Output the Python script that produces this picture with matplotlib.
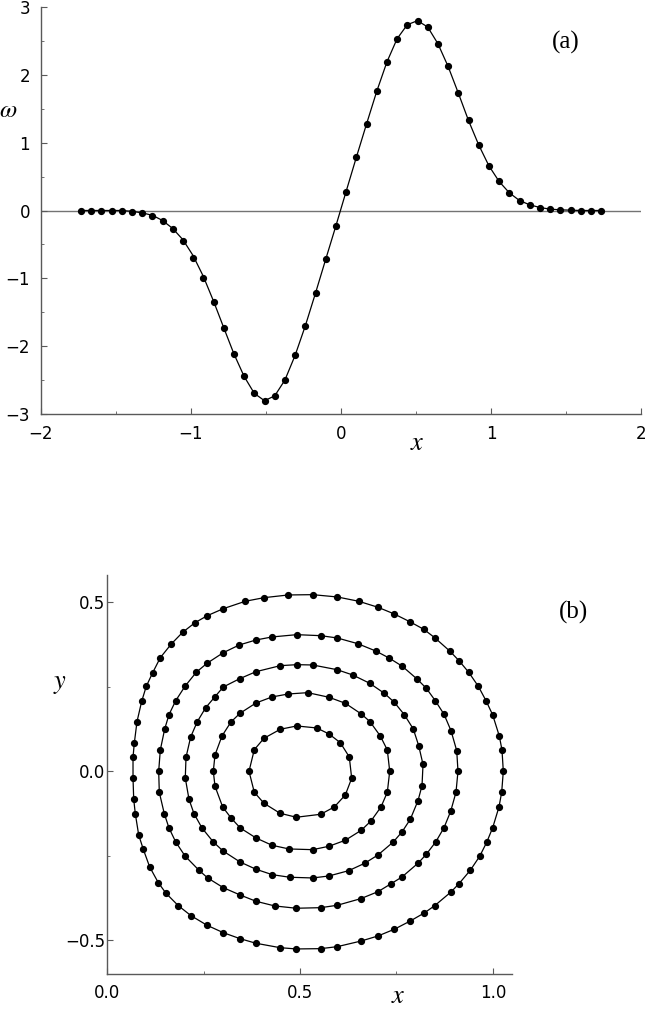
import numpy as np
import matplotlib.pyplot as plt

plt.rcParams['mathtext.fontset'] = 'stix'

# (a) vorticity profile, 52 equally spaced samples
x_a = np.linspace(-1.734, 1.734, 52)
omega = [0, 0, 0, 0, 0, -0.015, -0.04, -0.078, -0.152, -0.28,
         -0.457, -0.698, -0.997, -1.351, -1.726, -2.113, -2.445, -2.696, -2.804, -2.733,
         -2.500, -2.136, -1.701, -1.218, -0.720, -0.226, 0.280, 0.782, 1.274, 1.755,
         2.189, 2.532, 2.739, 2.798, 2.705, 2.459, 2.124, 1.732, 1.327, 0.967,
         0.659, 0.428, 0.261, 0.147, 0.084, 0.044, 0.02, 0.01, 0.005, 0,
         0, 0]
omega_line = [0, 0, 0, 0, 0, -0.012, -0.035, -0.07, -0.147, -0.265,
              -0.43, -0.665, -0.97, -1.335, -1.726, -2.113, -2.445, -2.696, -2.804, -2.733,
              -2.500, -2.136, -1.701, -1.218, -0.720, -0.226, 0.280, 0.782, 1.274, 1.755,
              2.189, 2.532, 2.739, 2.798, 2.705, 2.459, 2.124, 1.732, 1.327, 0.967,
              0.659, 0.428, 0.261, 0.147, 0.084, 0.044, 0.02, 0.01, 0.005, 0,
              0, 0]

# (b) marker positions on five contours
ring1_x = [0.4915, 0.4490, 0.4067, 0.3816, 0.3679, 0.3816, 0.4067, 0.4482, 0.4904,
           0.5536, 0.5889, 0.6174, 0.6339, 0.6277, 0.6044, 0.5751, 0.5433]
ring1_y = [0.1339, 0.1241, 0.0975, 0.0638, 0.0, -0.0621, -0.0946, -0.1241, -0.1359,
           -0.1271, -0.1055, -0.0700, -0.0207, 0.0423, 0.0845, 0.1102, 0.1280]

ring2_x = [0.5200, 0.4697, 0.4275, 0.3860, 0.3446, 0.3212, 0.2979, 0.2798, 0.2754,
           0.2798, 0.2997, 0.3220, 0.3453, 0.3860, 0.4275, 0.4715,
           0.5329, 0.5751, 0.6174, 0.6588, 0.6839, 0.7098, 0.7262, 0.7324,
           0.7262, 0.7080, 0.6813, 0.6588, 0.6174, 0.5751]
ring2_y = [0.2323, 0.2284, 0.2196, 0.2018, 0.1714, 0.1457, 0.1043, 0.0482, 0.0,
           -0.0443, -0.1055, -0.1389, -0.1676, -0.1971, -0.2187, -0.2296,
           -0.2317, -0.2216, -0.2039, -0.1743, -0.1469, -0.1055, -0.0621, 0.0,
           0.0629, 0.1043, 0.1466, 0.1693, 0.2009, 0.2187]

ring3_x = [0.4915, 0.4490, 0.3860, 0.3438, 0.3013, 0.2798, 0.2557, 0.2339, 0.2168, 0.2047,
           0.2028, 0.2124, 0.2254, 0.2461, 0.2754, 0.3005, 0.3446, 0.3860, 0.4282, 0.4733,
           0.5329, 0.5751, 0.6262, 0.6676, 0.7021, 0.7417, 0.7642, 0.7858, 0.8057, 0.8161,
           0.8187, 0.8075, 0.7935, 0.7702, 0.7443, 0.7184, 0.6806, 0.6365, 0.5959, 0.5329]
ring3_y = [0.3150, 0.3121, 0.2943, 0.2736, 0.2491, 0.2204, 0.1879, 0.1466, 0.1014, 0.0414,
           -0.0198, -0.0827, -0.1253, -0.1676, -0.2089, -0.2355, -0.2680, -0.2896, -0.3056, -0.3132,
           -0.3153, -0.3094, -0.2937, -0.2719, -0.2473, -0.2089, -0.1794, -0.1418, -0.0869, -0.0426,
           0.0201, 0.0757, 0.1250, 0.1673, 0.2039, 0.2305, 0.2600, 0.2846, 0.3002, 0.3141]

ring4_x = [0.4915, 0.4275, 0.3860, 0.3427, 0.3013, 0.2591, 0.2313, 0.2021, 0.1780, 0.1606,
           0.1495, 0.1381, 0.1339, 0.1355, 0.1484, 0.1606, 0.1780, 0.2021, 0.2383, 0.2609,
           0.3013, 0.3446, 0.3860, 0.4345, 0.4904, 0.5536, 0.5966, 0.6573, 0.7021, 0.7350,
           0.7642, 0.8065, 0.8272, 0.8516, 0.8731, 0.8904, 0.9041, 0.9093, 0.9060, 0.8912,
           0.8731, 0.8505, 0.8272, 0.8039, 0.7650, 0.7306, 0.6961, 0.6495, 0.5966, 0.5536]
ring4_y = [0.4037, 0.3969, 0.3880, 0.3732, 0.3505, 0.3191, 0.2926, 0.2512, 0.2086, 0.1673,
           0.1250, 0.0629, 0.0, -0.0621, -0.1253, -0.1676, -0.2089, -0.2503, -0.2926, -0.3153,
           -0.3440, -0.3655, -0.3842, -0.3980, -0.4048, -0.4031, -0.3960, -0.3765, -0.3558, -0.3330,
           -0.3124, -0.2710, -0.2453, -0.2089, -0.1667, -0.1182, -0.0621, 0.0, 0.0609, 0.1200,
           0.1684, 0.2086, 0.2453, 0.2719, 0.3103, 0.3348, 0.3555, 0.3771, 0.3939, 0.4007]

ring5_x = [0.4697, 0.4067, 0.3583, 0.3013, 0.2598, 0.2280, 0.1961, 0.1666, 0.1381, 0.1184,
           0.1018, 0.0899, 0.0777, 0.0707, 0.0674, 0.0674, 0.0692, 0.0733, 0.0821, 0.0940,
           0.1106, 0.1329, 0.1528, 0.1847, 0.2176, 0.2591, 0.3013, 0.3446, 0.3860, 0.4482,
           0.4904, 0.5536, 0.5966, 0.6588, 0.7021, 0.7443, 0.7858, 0.8220, 0.8490, 0.8912,
           0.9119, 0.9412, 0.9655, 0.9837, 0.9992, 1.0155, 1.0225, 1.0267, 1.0233, 1.0163,
           0.9992, 0.9819, 0.9619, 0.9370, 0.9119, 0.8886, 0.8490, 0.8205, 0.7858, 0.7443,
           0.7021, 0.6521, 0.5966, 0.5329]
ring5_y = [0.5210, 0.5130, 0.5024, 0.4805, 0.4598, 0.4391, 0.4108, 0.3762, 0.3357, 0.2914,
           0.2512, 0.2069, 0.1466, 0.0827, 0.0414, -0.0207, -0.0827, -0.1253, -0.1882, -0.2305,
           -0.2828, -0.3292, -0.3605, -0.3972, -0.4267, -0.4551, -0.4770, -0.4947, -0.5083, -0.5213,
           -0.5251, -0.5242, -0.5183, -0.5015, -0.4867, -0.4669, -0.4424, -0.4187, -0.3972, -0.3567,
           -0.3322, -0.2926, -0.2512, -0.2098, -0.1667, -0.1055, -0.0621, 0.0, 0.0629, 0.1043,
           0.1664, 0.2086, 0.2512, 0.2926, 0.3268, 0.3546, 0.3948, 0.4196, 0.4412, 0.4648,
           0.4846, 0.5024, 0.5151, 0.5219]

rings = [(ring1_x, ring1_y), (ring2_x, ring2_y), (ring3_x, ring3_y),
         (ring4_x, ring4_y), (ring5_x, ring5_y)]

spine_col = '0.35'

def style_axes(ax, pad_x, pad_y):
    for s in ['top', 'right']:
        ax.spines[s].set_visible(False)
    for s in ['left', 'bottom']:
        ax.spines[s].set_color(spine_col)
        ax.spines[s].set_linewidth(1.0)
    ax.tick_params(which='both', direction='in', color=spine_col, labelsize=12)
    ax.tick_params(which='major', length=4)
    ax.tick_params(which='minor', length=2.4)
    ax.tick_params(axis='x', pad=pad_x)
    ax.tick_params(axis='y', pad=pad_y)

def one_decimal(v, pos):
    return ('%.1f' % v).replace('-', '\u2212')


fig = plt.figure(figsize=(6.47, 10.09), dpi=100)

# ---- panel (a)
ax1 = fig.add_axes([41/647, 1-414/1009, 600/647, 407/1009])
ax1.axhline(0, color='0.45', lw=1.0, zorder=1)
ax1.plot(x_a, omega_line, color='k', lw=0.9, zorder=2)
ax1.plot(x_a, omega, 'o', color='k', ms=4.2, zorder=3)
ax1.set_xlim(-2, 2)
ax1.set_ylim(-3, 3)
ax1.set_xticks([-2, -1, 0, 1, 2])
ax1.set_xticks([-1.5, -0.5, 0.5, 1.5], minor=True)
ax1.set_yticks([-3, -2, -1, 0, 1, 2, 3])
ax1.set_yticks(np.arange(-2.5, 3, 1.0), minor=True)
style_axes(ax1, 8, 8)
ax1.text(-0.055, 0.747, r'$\omega$', transform=ax1.transAxes, fontsize=18,
         ha='center', va='center')
ax1.text(0.627, -0.071, r'$x$', transform=ax1.transAxes, fontsize=19,
         ha='center', va='center')
ax1.text(0.875, 0.914, '(a)', transform=ax1.transAxes, fontsize=18,
         family='Liberation Serif', ha='center', va='center')

# ---- panel (b)
ax2 = fig.add_axes([107/647, 1-974.3/1009, 405.3/647, 399.3/1009])
for rx, ry in rings:
    ax2.plot(list(rx) + [rx[0]], list(ry) + [ry[0]], color='k', lw=0.9, zorder=2)
    ax2.plot(rx, ry, 'o', color='k', ms=4.2, zorder=3)
ax2.set_xlim(0, 1.05)
ax2.set_ylim(-0.60, 0.58)
ax2.set_xticks([0.0, 0.5, 1.0])
ax2.set_xticks([0.25, 0.75], minor=True)
ax2.set_yticks([-0.5, 0.0, 0.5])
ax2.set_yticks([-0.25, 0.25], minor=True)
ax2.xaxis.set_major_formatter(plt.FuncFormatter(one_decimal))
ax2.yaxis.set_major_formatter(plt.FuncFormatter(one_decimal))
style_axes(ax2, 7, 1)
ax2.text(-0.116, 0.7295, r'$y$', transform=ax2.transAxes, fontsize=19,
         ha='center', va='center')
ax2.text(0.719, -0.072, r'$x$', transform=ax2.transAxes, fontsize=19,
         ha='center', va='baseline')
ax2.text(1.152, 0.907, '(b)', transform=ax2.transAxes, fontsize=18,
         family='Liberation Serif', ha='center', va='center', clip_on=False)

plt.savefig('out.png', dpi=100)
